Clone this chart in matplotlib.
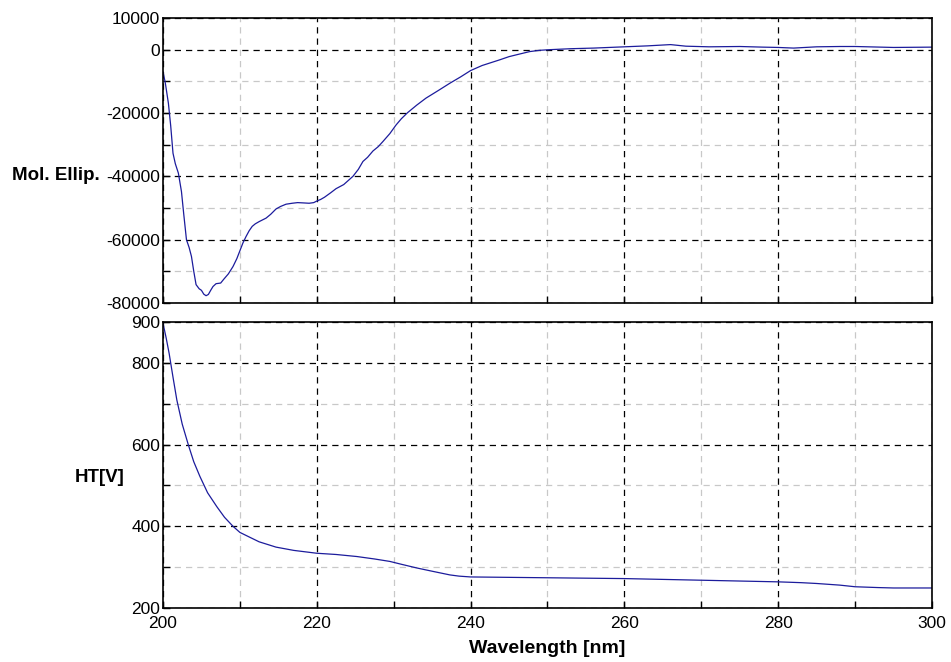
import numpy as np
import matplotlib
matplotlib.use("Agg")
import matplotlib.pyplot as plt

plt.rcParams['font.family'] = ['Liberation Sans', 'DejaVu Sans']
plt.rcParams['axes.unicode_minus'] = False

# CD spectrum (molar ellipticity)
wl_cd = [200.0, 200.3, 200.7, 201.0, 201.3, 201.6, 202.0, 202.4, 202.7, 203.05, 203.4, 203.7,
         204.0, 204.3, 204.7, 205.0, 205.3, 205.6, 205.9, 206.2, 206.5,
         206.9, 207.5, 207.9, 208.5, 209.1, 209.6, 210.0, 210.4, 210.8, 211.2, 211.6, 212.0, 212.5,
         213.4, 214.0, 214.7, 215.3, 216.0, 216.8, 217.5, 218.3, 219.0, 219.6, 220.0, 220.5, 221.0,
         221.8, 222.5, 223.5, 224.7, 225.4, 226.0, 226.6, 227.3, 228.0, 228.6, 229.5, 230.3,
         231.0, 231.8, 233.0, 234.2, 235.8, 237.3, 238.7, 240.0, 241.5, 243.8, 245.0, 246.0,
         247.7, 249.0, 250.3, 253.0, 256.0, 260.0, 263.0, 266.0, 268.0, 271.0, 275.0, 278.0,
         280.0, 282.0, 285.0, 288.0, 290.0, 295.0, 300.0]
mol_ellip = [-7000, -10500, -16900, -24000, -32700, -36000, -39000, -44800, -52000, -60000, -62500, -65300,
             -70000, -74200, -75500, -76000, -77200, -77700, -77300, -76000, -74800,
             -73900, -73700, -72500, -70800, -68500, -66000, -63500, -61000, -59000, -57200, -55800, -55000, -54300,
             -53200, -52000, -50300, -49500, -48800, -48500, -48300, -48400, -48500, -48300, -47800, -47300, -46600,
             -45200, -43900, -42600, -40000, -37800, -35300, -34000, -32000, -30600, -29000, -26500, -23800,
             -21800, -19900, -17500, -15300, -12900, -10600, -8600, -6600, -5000, -3200, -2200, -1600,
             -600, -200, 0, 300, 500, 900, 1200, 1600, 1100, 900, 1000, 800,
             700, 500, 900, 1000, 1000, 700, 800]

# HT voltage
wl_ht = [200.0, 200.4, 200.8, 201.3, 201.8, 202.5, 203.3, 204.0, 204.8, 205.8, 207.0,
         208.0, 209.1, 210.0, 211.3, 212.5, 214.7, 217.0, 220.0, 222.5, 225.2, 227.5,
         229.5, 231.0, 233.0, 235.0, 237.3, 238.5, 240.0, 245.0, 250.0, 255.0, 260.0, 265.0,
         270.0, 275.0, 280.0, 283.0, 285.0, 288.0, 290.0, 293.0, 295.0, 300.0]
ht = [897, 862, 823, 765, 709, 650, 599, 558, 522, 482, 448,
      422, 400, 385, 373, 362, 349, 341, 334, 331, 326, 320,
      314, 307, 298, 290, 281, 278, 276, 275, 274, 273, 272, 270,
      268, 266, 264, 262, 260, 256, 252, 250, 249, 249]

line_color = '#1c1c9c'

fig = plt.figure(figsize=(9.51, 6.62), dpi=100)
ax1 = fig.add_axes([163/951, 1 - 303/662, 769/951, 285/662])
ax2 = fig.add_axes([163/951, 1 - 608/662, 769/951, 286/662])

ax1.plot(wl_cd, mol_ellip, color=line_color, lw=0.9)
ax2.plot(wl_ht, ht, color=line_color, lw=0.9)

ax1.set_ylim(-80000, 10000)
ax1.set_yticks([-80000, -60000, -40000, -20000, 0, 10000])
ax1.set_yticks([-70000, -50000, -30000, -10000], minor=True)
ax2.set_ylim(200, 900)
ax2.set_yticks([200, 400, 600, 800, 900])
ax2.set_yticks([300, 500, 700], minor=True)

for ax in (ax1, ax2):
    ax.set_xlim(200, 300)
    ax.set_xticks([200, 220, 240, 260, 280, 300])
    ax.set_xticks([210, 230, 250, 270, 290], minor=True)
    ax.grid(True, which='major', color='black', linestyle=(0, (5, 4)), lw=0.9)
    ax.grid(True, which='minor', color='#c8c8c8', linestyle=(0, (5, 4)), lw=0.9)
    ax.tick_params(which='both', direction='in', length=5, width=1, labelsize=12.5,
                   top=False, right=False, color='black', pad=2)
    ax.tick_params(axis='x', pad=6)
    for s in ax.spines.values():
        s.set_linewidth(1.2)

ax1.tick_params(axis='x', labelbottom=False)
ax2.set_xlabel('Wavelength [nm]', fontsize=14, fontweight='bold', labelpad=6)

fig.text(56/951, 1 - 175/662, 'Mol. Ellip.', fontsize=13.5, fontweight='bold',
         ha='center', va='center')
fig.text(100/951, 1 - 477/662, 'HT[V]', fontsize=13.5, fontweight='bold',
         ha='center', va='center')

fig.savefig('out.png', dpi=100)
